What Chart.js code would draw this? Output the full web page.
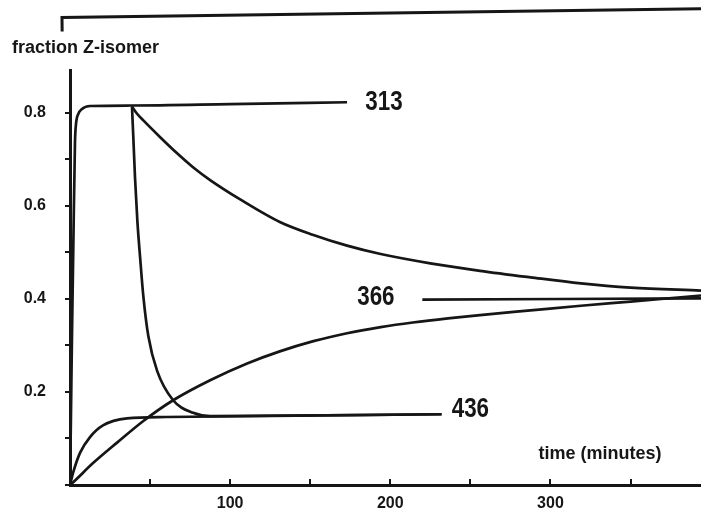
<!DOCTYPE html>
<html>
<head>
<meta charset="utf-8">
<script src="https://cdn.jsdelivr.net/npm/chart.js@4.4.1/dist/chart.umd.min.js"></script>
<style>
  html, body { margin: 0; padding: 0; background: #fff; }
  #wrap { width: 701px; height: 520px; }
</style>
</head>
<body>
<div id="wrap"><canvas id="chart"></canvas></div>
<script>
// time in minutes, fraction of Z-isomer

// 313 nm from the start
var time313 = [0, 0.6, 1.2, 2.1, 3.1, 3.75, 5.2, 7.3, 12.5, 38, 100, 173];
var frac313 = [0, 0.15, 0.31, 0.52, 0.735, 0.775, 0.797, 0.807, 0.814, 0.815, 0.818, 0.822];

// 313 nm, then 436 nm
var time313to436 = [38.7, 39.5, 40.6, 42.1, 43.75, 45.8, 48.9, 54.4, 64.4, 76.9, 87.5, 232];
var frac313to436 = [0.813, 0.75, 0.66, 0.565, 0.49, 0.405, 0.32, 0.245, 0.182, 0.155, 0.148, 0.152];

// 313 nm, then 366 nm
var time313to366 = [38.7, 41.5, 45.8, 56.3, 66.7, 77, 87.5, 106, 131, 152, 173, 194, 225, 256, 287.5, 319, 350, 394];
var frac313to366 = [0.813, 0.799, 0.783, 0.747, 0.713, 0.682, 0.655, 0.614, 0.565, 0.537, 0.514, 0.496, 0.476, 0.46, 0.446, 0.433, 0.424, 0.4175];

// 366 nm from the start
var time366 = [0, 2, 14.4, 29.4, 45.6, 64.4, 87.5, 110.6, 131, 152, 173, 194, 214, 236, 256, 287.5, 319, 350, 394];
var frac366 = [0, 0.006, 0.047, 0.091, 0.137, 0.182, 0.225, 0.261, 0.287, 0.309, 0.326, 0.339, 0.349, 0.358, 0.365, 0.375, 0.385, 0.394, 0.407];

// 366 nm stationary level
var time366pss = [220, 394];
var frac366pss = [0.398, 0.401];

// 436 nm from the start
var time436 = [0, 1.9, 6.25, 12.5, 20.6, 35.6, 60, 232];
var frac436 = [0, 0.026, 0.069, 0.103, 0.128, 0.143, 0.146, 0.152];

// frame line over the top of the figure (small hook at its left end)
var timeFrame = [-4.9, -5, 394];
var fracFrame = [0.974, 1.004, 1.023];

var xTicks = [0, 50, 100, 150, 200, 250, 300, 350];
var xTickLabels = ['', '', '100', '', '200', '', '300', ''];
var yTicks = [0, 0.1, 0.2, 0.3, 0.4, 0.5, 0.6, 0.7, 0.8];
var yTickLabels = ['', '', '0.2', '', '0.4', '', '0.6', '', '0.8'];

var ink = '#161616';

var curveLabels = [
    { text: '313', t: 196, f: 0.822, font: 'bold 28px "Liberation Sans", Arial, sans-serif', squeeze: 0.8 },
    { text: '366', t: 191, f: 0.403, font: 'bold 28px "Liberation Sans", Arial, sans-serif', squeeze: 0.8 },
    { text: '436', t: 250, f: 0.163, font: 'bold 28px "Liberation Sans", Arial, sans-serif', squeeze: 0.8 },
    { text: 'time (minutes)', t: 331, f: 0.066, font: 'bold 18px "Liberation Sans", Arial, sans-serif', squeeze: 1 }
];

function toPoints(times, fracs) {
    return times.map(function(t, i) {
        return { x: t, y: fracs[i] };
    });
}

function curve(times, fracs, extra) {
    var ds = {
        data: toPoints(times, fracs),
        borderColor: ink,
        borderWidth: 2.7,
        pointRadius: 0,
        fill: false,
        cubicInterpolationMode: 'monotone'
    };
    return Object.assign(ds, extra || {});
}

var labelPlugin = {
    id: 'curveLabels',
    afterDatasetsDraw: function(chart) {
        var ctx = chart.ctx;
        var x = chart.scales.x;
        var y = chart.scales.y;
        curveLabels.forEach(function(l) {
            ctx.save();
            ctx.fillStyle = ink;
            ctx.textAlign = 'center';
            ctx.textBaseline = 'middle';
            ctx.font = l.font;
            ctx.translate(x.getPixelForValue(l.t), y.getPixelForValue(l.f));
            ctx.scale(l.squeeze, 1);
            ctx.fillText(l.text, 0, 0);
            ctx.restore();
        });
    }
};

var tickFont = { family: '"Liberation Sans", Arial, sans-serif', size: 16, weight: 'bold' };

new Chart(document.getElementById('chart'), {
    type: 'line',
    data: {
        datasets: [
            curve(timeFrame, fracFrame, { borderWidth: 3, cubicInterpolationMode: 'default', tension: 0, clip: false }),
            curve(time313, frac313),
            curve(time313to436, frac313to436),
            curve(time313to366, frac313to366),
            curve(time366, frac366),
            curve(time366pss, frac366pss, { tension: 0 }),
            curve(time436, frac436)
        ]
    },
    options: {
        responsive: true,
        maintainAspectRatio: false,
        animation: false,
        layout: { padding: { left: 12, right: 0, top: 0, bottom: 0 } },
        plugins: {
            legend: { display: false },
            tooltip: { enabled: false },
            title: {
                display: true,
                text: 'fraction Z-isomer',
                align: 'start',
                color: ink,
                font: { family: '"Liberation Sans", Arial, sans-serif', size: 18, weight: 'bold' },
                padding: { top: 37, bottom: 12 }
            }
        },
        scales: {
            x: {
                type: 'linear',
                min: 0,
                max: 394,
                afterBuildTicks: function(scale) {
                    scale.ticks = xTicks.map(function(v) { return { value: v }; });
                },
                afterFit: function(scale) {
                    scale.height = 35;
                },
                ticks: {
                    color: ink,
                    font: tickFont,
                    padding: 15,
                    maxRotation: 0,
                    autoSkip: false,
                    callback: function(value, index) { return xTickLabels[index]; }
                },
                grid: { drawOnChartArea: false, drawTicks: true, tickLength: -6, color: ink, lineWidth: 2 },
                border: { color: ink, width: 3 }
            },
            y: {
                type: 'linear',
                min: 0,
                max: 0.89,
                afterBuildTicks: function(scale) {
                    scale.ticks = yTicks.map(function(v) { return { value: v }; });
                },
                afterFit: function(scale) {
                    scale.width = 58;
                },
                ticks: {
                    color: ink,
                    font: tickFont,
                    padding: 19,
                    autoSkip: false,
                    callback: function(value, index) { return yTickLabels[index]; }
                },
                grid: { drawOnChartArea: false, drawTicks: true, tickLength: 5, color: ink, lineWidth: 2 },
                border: { color: ink, width: 3 }
            }
        }
    },
    plugins: [labelPlugin]
});
</script>
</body>
</html>
